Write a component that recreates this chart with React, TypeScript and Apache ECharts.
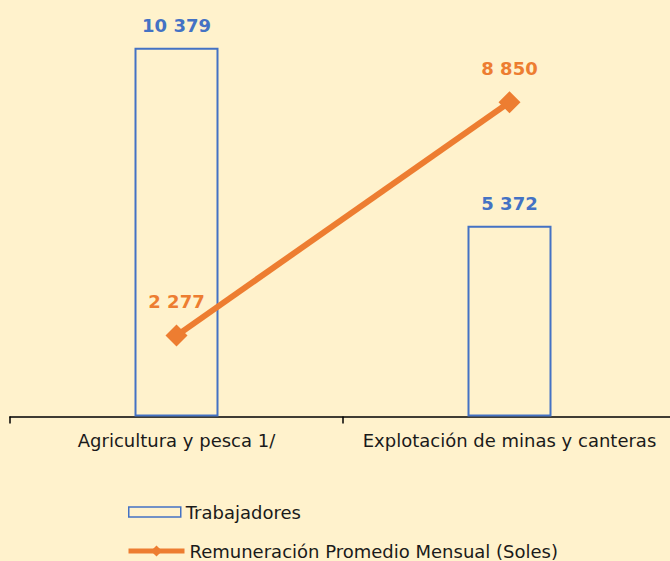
import React, { useEffect, useRef } from "react";
import * as echarts from "echarts";

const categories = ["Agricultura y pesca 1/", "Explotación de minas y canteras"];
const trabajadores = [10379, 5372];
const remuneracion = [2277, 8850];
const seriesNames = ["Trabajadores", "Remuneración Promedio Mensual (Soles)"];

const BLUE = "#4472C4";
const ORANGE = "#ED7D31";
const FONT = "DejaVu Sans";

const fmt = (v: number) => String(v).replace(/\B(?=(\d{3})+(?!\d))/g, " ");

export default function App() {
  const ref = useRef<HTMLDivElement>(null);
  useEffect(() => {
    if (!ref.current) return;
    const chart = echarts.init(ref.current, undefined, { renderer: "svg" });
    const legendText = { color: "#1a1a1a", fontSize: 18, fontFamily: FONT };
    chart.setOption({
      animation: false,
      backgroundColor: "#FFF2CC",
      textStyle: { fontFamily: FONT },
      grid: { left: 10, right: 0, top: 0, height: 416.5, containLabel: false },
      xAxis: {
        type: "category",
        data: categories,
        boundaryGap: true,
        axisLine: { lineStyle: { color: "#000", width: 1.5 } },
        axisTick: { show: true, length: 7, lineStyle: { color: "#000", width: 1.5 } },
        axisLabel: {
          color: "#1a1a1a",
          fontSize: 18,
          margin: 15,
          fontFamily: FONT,
          interval: 0,
          hideOverlap: false,
        },
      },
      yAxis: {
        type: "value",
        min: 0,
        max: 11725,
        show: false,
        splitLine: { show: false },
      },
      legend: [
        {
          left: 128,
          top: 503,
          padding: 0,
          itemWidth: 52,
          itemHeight: 10,
          itemGap: 5,
          textStyle: legendText,
          data: [
            {
              name: seriesNames[0],
              icon: "rect",
              itemStyle: { color: "transparent", borderColor: BLUE, borderWidth: 1.5 },
            },
          ],
        },
        {
          left: 126,
          top: 542,
          padding: 0,
          itemWidth: 56,
          itemHeight: 14,
          itemGap: 5,
          textStyle: legendText,
          data: [
            {
              name: seriesNames[1],
              lineStyle: { width: 5, color: ORANGE },
            },
          ],
        },
      ],
      series: [
        {
          name: seriesNames[0],
          type: "bar",
          data: trabajadores,
          barWidth: 84,
          itemStyle: { color: "transparent", borderColor: BLUE, borderWidth: 2 },
          label: {
            show: true,
            position: "top",
            distance: 13,
            color: BLUE,
            fontSize: 18,
            fontWeight: "bold",
            fontFamily: FONT,
            formatter: (p: any) => fmt(p.value),
          },
          z: 1,
        },
        {
          name: seriesNames[1],
          type: "line",
          data: remuneracion,
          symbol: "diamond",
          symbolSize: 22,
          lineStyle: { color: ORANGE, width: 6 },
          itemStyle: { color: ORANGE },
          label: {
            show: true,
            position: "top",
            distance: 14,
            color: ORANGE,
            fontSize: 18,
            fontWeight: "bold",
            fontFamily: FONT,
            formatter: (p: any) => fmt(p.value),
          },
          z: 3,
        },
      ],
    });
    return () => chart.dispose();
  }, []);
  return (
    <div style={{ width: 670, height: 561, position: "absolute", left: 0, top: 0, overflow: "hidden", background: "#FFF2CC" }}>
      <div ref={ref} style={{ width: 676, height: 561 }} />
    </div>
  );
}
